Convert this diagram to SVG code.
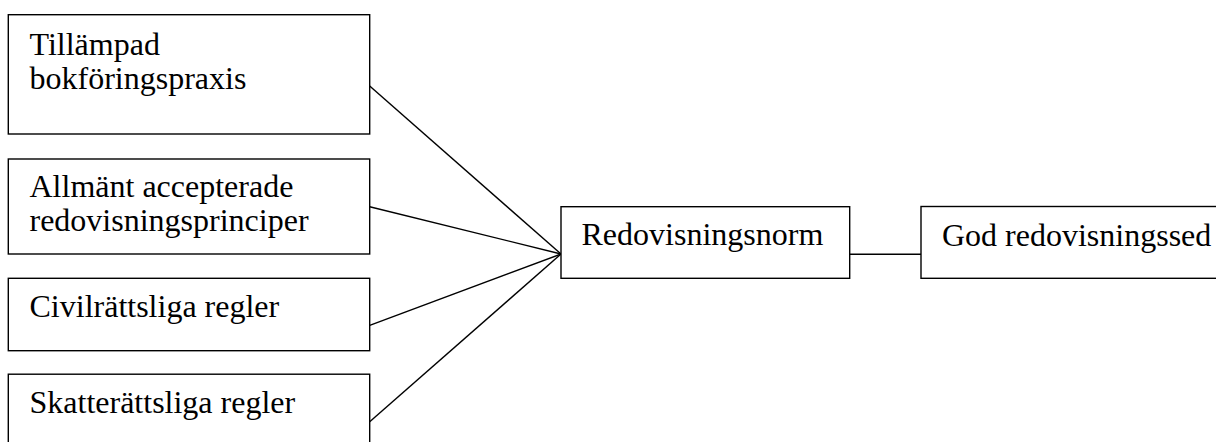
<svg xmlns="http://www.w3.org/2000/svg" width="1216" height="442" viewBox="0 0 1216 442">
<style>
.box{fill:#fff;stroke:#000;stroke-width:1.4}
.lbl{font-family:"Liberation Serif","Times New Roman",serif;font-size:32px;fill:#000}
.conn line{stroke:#000;stroke-width:1.4}
</style>
<rect width="1216" height="442" fill="#fff"/>
<g class="conn" id="connectors">
<line x1="369.7" y1="86" x2="561" y2="254"/>
<line x1="369.7" y1="206.7" x2="561" y2="254"/>
<line x1="369.7" y1="325.3" x2="561" y2="254"/>
<line x1="369.7" y1="421.7" x2="561" y2="254"/>
<line x1="849.7" y1="254.3" x2="921" y2="254.3"/>
</g>
<g id="n1"><rect class="box" x="8.3" y="14.7" width="361.4" height="119.3"/>
<text class="lbl" x="29.5" y="55">Tillämpad</text>
<text class="lbl" x="29.5" y="88.5">bokföringspraxis</text></g>
<g id="n2"><rect class="box" x="8.3" y="159" width="361.4" height="95"/>
<text class="lbl" x="29.5" y="196.8">Allmänt accepterade</text>
<text class="lbl" x="29.5" y="231">redovisningsprinciper</text></g>
<g id="n3"><rect class="box" x="8.3" y="278.3" width="361.4" height="72.4"/>
<text class="lbl" x="29.5" y="317.3">Civilrättsliga regler</text></g>
<g id="n4"><rect class="box" x="8.3" y="374.2" width="361.4" height="80"/>
<text class="lbl" x="29.5" y="412.7">Skatterättsliga regler</text></g>
<g id="n5"><rect class="box" x="561" y="206.7" width="288.7" height="71.6"/>
<text class="lbl" x="581.5" y="245.3">Redovisningsnorm</text></g>
<g id="n6"><rect class="box" x="921" y="206.5" width="310" height="71.8"/>
<text class="lbl" x="942" y="245.5">God redovisningssed</text></g>
</svg>
